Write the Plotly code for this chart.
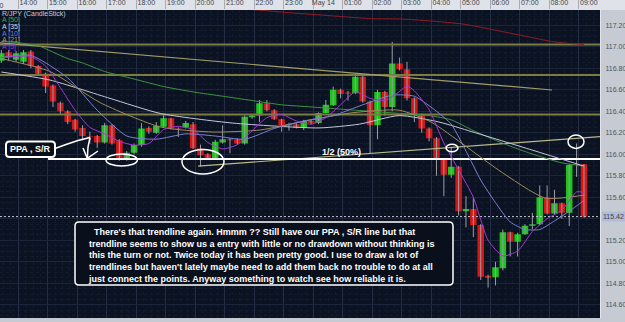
import pandas as pd
import plotly.graph_objects as go

# ---------------- data ----------------
times = pd.date_range("2014-05-13 13:30", periods=80, freq="15min")

opens = [116.87, 116.95, 116.88, 116.86, 116.955, 116.82, 116.75, 116.64, 116.48, 116.40,
         116.32, 116.245, 116.17, 116.17, 116.11, 116.27, 116.13, 115.96, 116.015, 116.086,
         116.245, 116.20, 116.257, 116.335, 116.24, 116.25, 116.28, 116.056, 116.00, 115.963,
         116.11, 116.14, 116.14, 116.10, 116.345, 116.36, 116.475, 116.41, 116.325, 116.27,
         116.28, 116.245, 116.31, 116.29, 116.385, 116.455, 116.60, 116.575, 116.567, 116.72,
         116.49, 116.27, 116.58, 116.44, 116.845, 116.79, 116.52, 116.37, 116.24, 116.15,
         115.955, 115.81, 115.885, 115.47, 115.49, 115.342, 114.87, 114.855, 114.94, 115.275,
         115.187, 115.256, 115.335, 115.35, 115.60, 115.45, 115.545, 115.457, 115.90, 115.907]
highs = [116.97, 116.97, 116.96, 116.97, 116.97, 116.83, 116.76, 116.65, 116.49, 116.41,
         116.33, 116.27, 116.21, 116.18, 116.29, 116.28, 116.14, 116.03, 116.10, 116.29,
         116.26, 116.30, 116.38, 116.34, 116.25, 116.31, 116.30, 116.09, 116.01, 116.135,
         116.27, 116.15, 116.15, 116.36, 116.37, 116.505, 116.505, 116.42, 116.33, 116.29,
         116.29, 116.32, 116.32, 116.39, 116.505, 116.63, 116.61, 116.59, 116.73, 116.74,
         116.50, 116.60, 116.59, 117.045, 116.90, 116.86, 116.53, 116.38, 116.25, 116.16,
         115.96, 116.07, 115.89, 115.61, 115.60, 115.35, 114.88, 115.00, 115.30, 115.28,
         115.27, 115.35, 115.455, 115.71, 115.71, 115.67, 115.55, 115.91, 116.10, 115.91]
lows = [116.85, 116.87, 116.86, 116.84, 116.80, 116.73, 116.57, 116.44, 116.365, 116.28,
        116.21, 116.13, 116.10, 116.06, 116.10, 116.09, 115.94, 115.94, 116.00, 116.07,
        116.19, 116.19, 116.25, 116.23, 116.16, 116.24, 116.05, 115.885, 115.95, 115.955,
        116.10, 116.01, 116.09, 116.09, 116.33, 116.30, 116.40, 116.32, 116.21, 116.22,
        116.24, 116.225, 116.28, 116.28, 116.38, 116.45, 116.52, 116.50, 116.56, 116.48,
        116.01, 116.14, 116.36, 116.40, 116.78, 116.50, 116.30, 116.20, 116.12, 115.80,
        115.61, 115.78, 115.43, 115.32, 115.23, 114.83, 114.76, 114.78, 114.92, 115.05,
        115.05, 115.25, 115.30, 115.34, 115.44, 115.44, 115.40, 115.333, 115.79, 115.41]
closes = [116.94, 116.90, 116.94, 116.95, 116.82, 116.75, 116.63, 116.49, 116.40, 116.30,
          116.23, 116.17, 116.165, 116.11, 116.27, 116.10, 115.955, 116.015, 116.086, 116.24,
          116.21, 116.265, 116.335, 116.24, 116.235, 116.29, 116.056, 115.99, 115.963, 116.117,
          116.14, 116.13, 116.10, 116.35, 116.36, 116.475, 116.41, 116.325, 116.27, 116.28,
          116.245, 116.31, 116.29, 116.385, 116.46, 116.60, 116.56, 116.565, 116.72, 116.49,
          116.27, 116.58, 116.44, 116.845, 116.79, 116.52, 116.375, 116.24, 116.15, 115.955,
          115.81, 115.885, 115.47, 115.49, 115.342, 114.86, 114.852, 114.948, 115.275, 115.187,
          115.256, 115.336, 115.35, 115.60, 115.45, 115.544, 115.457, 115.90, 115.905, 115.42]

# moving average lines
ma5_t = ["2014-05-13 13:30", "2014-05-13 14:00", "2014-05-13 14:30", "2014-05-13 15:00", "2014-05-13 15:30",
         "2014-05-13 16:00", "2014-05-13 16:30", "2014-05-13 17:00", "2014-05-13 17:30", "2014-05-13 18:00",
         "2014-05-13 18:30", "2014-05-13 19:00", "2014-05-13 19:30", "2014-05-13 20:00", "2014-05-13 20:30",
         "2014-05-13 21:00", "2014-05-13 21:30", "2014-05-13 22:00", "2014-05-13 22:30", "2014-05-13 23:00",
         "2014-05-13 23:30", "2014-05-14 00:00", "2014-05-14 00:30", "2014-05-14 01:00", "2014-05-14 01:30",
         "2014-05-14 02:00", "2014-05-14 02:30", "2014-05-14 03:00", "2014-05-14 03:15", "2014-05-14 03:30",
         "2014-05-14 04:00", "2014-05-14 04:30", "2014-05-14 05:00", "2014-05-14 05:30", "2014-05-14 06:00",
         "2014-05-14 06:30", "2014-05-14 07:00", "2014-05-14 07:30", "2014-05-14 08:00", "2014-05-14 08:30",
         "2014-05-14 09:00", "2014-05-14 09:15"]
ma5_v = [116.90, 116.91, 116.91, 116.82, 116.62, 116.41, 116.25, 116.19, 116.12, 116.085,
         116.10, 116.23, 116.26, 116.23, 116.11, 116.05, 116.09, 116.22, 116.34, 116.37,
         116.31, 116.28, 116.34, 116.46, 116.58, 116.52, 116.50, 116.585, 116.635, 116.59,
         116.415, 116.105, 115.855, 115.60, 115.20, 115.055, 115.10, 115.28, 115.40, 115.48,
         115.65, 115.645]

ma10_t = ["2014-05-13 13:30", "2014-05-13 14:30", "2014-05-13 15:45", "2014-05-13 16:45", "2014-05-13 17:45",
          "2014-05-13 18:45", "2014-05-13 19:45", "2014-05-13 20:45", "2014-05-13 21:45", "2014-05-13 22:45",
          "2014-05-13 23:45", "2014-05-14 00:45", "2014-05-14 01:45", "2014-05-14 02:45", "2014-05-14 03:30",
          "2014-05-14 04:15", "2014-05-14 04:45", "2014-05-14 05:15", "2014-05-14 05:45", "2014-05-14 06:15",
          "2014-05-14 06:45", "2014-05-14 07:15", "2014-05-14 07:45", "2014-05-14 08:15", "2014-05-14 08:45",
          "2014-05-14 09:15"]
ma10_v = [116.90, 116.92, 116.71, 116.41, 116.17, 116.14, 116.19, 116.17, 116.14, 116.24,
          116.31, 116.36, 116.46, 116.55, 116.54, 116.40, 116.28, 116.03, 115.76, 115.55,
          115.37, 115.30, 115.30, 115.38, 115.47, 115.57]

ma21_t = ["2014-05-13 13:30", "2014-05-13 15:09", "2014-05-13 16:51", "2014-05-13 18:53", "2014-05-13 20:41",
          "2014-05-13 22:17", "2014-05-13 23:38", "2014-05-14 01:20", "2014-05-14 02:59", "2014-05-14 04:04",
          "2014-05-14 05:11", "2014-05-14 06:21", "2014-05-14 07:56", "2014-05-14 09:15"]
ma21_v = [116.89, 116.77, 116.48, 116.254, 116.207, 116.226, 116.30, 116.384, 116.41, 116.30,
          116.087, 115.854, 115.593, 115.62]

ma35_t = ["2014-05-13 13:30", "2014-05-13 15:09", "2014-05-13 17:11", "2014-05-13 18:53", "2014-05-13 21:21",
          "2014-05-14 00:16", "2014-05-14 01:38", "2014-05-14 02:59", "2014-05-14 04:20", "2014-05-14 05:27",
          "2014-05-14 07:29", "2014-05-14 09:15"]
ma35_v = [116.765, 116.69, 116.52, 116.38, 116.29, 116.245, 116.28, 116.36, 116.30, 116.21,
          116.04, 115.89]

ma50_t = ["2014-05-13 13:30", "2014-05-13 14:00", "2014-05-13 14:45", "2014-05-13 15:15", "2014-05-13 15:45",
          "2014-05-13 16:15", "2014-05-13 17:00", "2014-05-13 18:00", "2014-05-13 19:00", "2014-05-13 20:00",
          "2014-05-13 21:00", "2014-05-13 22:00", "2014-05-13 23:00", "2014-05-14 00:00", "2014-05-14 01:00",
          "2014-05-14 02:00", "2014-05-14 03:00", "2014-05-14 04:00", "2014-05-14 04:45", "2014-05-14 05:30",
          "2014-05-14 06:15", "2014-05-14 07:00", "2014-05-14 07:45", "2014-05-14 08:30", "2014-05-14 09:15"]
ma50_v = [117.05, 117.04, 117.01, 116.95, 116.89, 116.85, 116.77, 116.70, 116.63, 116.58,
          116.54, 116.50, 116.46, 116.44, 116.42, 116.40, 116.38, 116.36, 116.32, 116.22,
          116.13, 116.05, 115.98, 115.92, 115.89]

malong_t = ["2014-05-13 21:00", "2014-05-13 22:57", "2014-05-14 00:18", "2014-05-14 02:06", "2014-05-14 02:59",
            "2014-05-14 04:04", "2014-05-14 05:11", "2014-05-14 06:13", "2014-05-14 07:14", "2014-05-14 08:15",
            "2014-05-14 09:15"]
malong_v = [117.37, 117.324, 117.296, 117.261, 117.259, 117.24, 117.21, 117.156, 117.10, 117.045, 117.02]

x_range = ["2014-05-13 13:27:15", "2014-05-14 09:47:35"]
sr_levels = [117.02, 116.738, 116.37]          # olive horizontal lines
ppa_level = 115.955                             # white PPA, S/R line
ppa_start = "2014-05-13 15:05"
trend_up_t = ["2014-05-13 20:10", "2014-05-14 09:48"]
trend_up_v = [115.89, 116.165]
trend_dn_t = ["2014-05-13 13:27", "2014-05-14 08:10"]
trend_dn_v = [117.036, 116.598]

hour_ticks = pd.date_range("2014-05-13 14:00", "2014-05-14 09:00", freq="1h")
hour_labels = ["14:00", "15:00", "16:00", "17:00", "18:00", "19:00", "20:00", "21:00", "22:00", "23:00",
               "May 14", "01:00", "02:00", "03:00", "04:00", "05:00", "06:00", "07:00", "08:00", "09:00"]
price_ticks = [114.6, 114.8, 115.0, 115.2, 115.4, 115.6, 115.8, 116.0, 116.2, 116.4, 116.6, 116.8, 117.0, 117.2]

legend_labels = ["R/JPY (CandleStick)", "A [50]", "A [35]", "A [10]", "A [21]", "A [5]"]
note_lines = ["\u00a0\u00a0There's that trendline again. Hmmm ?? Still have our PPA , S/R line but that",
              "trendline seems to show us a entry with little or no drawdown without thinking is",
              "this the turn or not. Twice today it has been pretty good. I use to draw a lot of",
              "trendlines but haven't lately maybe need to add them back no trouble to do at all",
              "just connect the points. Anyway something to watch see how reliable it is."]

# ---------------- geometry helpers (pixel -> paper) ----------------
W, H = 625, 322
PL, PR, PT, PB = 0, 600, 10, 318


def px(x):
    return (x - PL) / (PR - PL)


def py(y):
    return (PB - y) / (PB - PT)


def rrect(x0, y0, x1, y1, r):
    rx, ry = r / (PR - PL), r / (PB - PT)
    a0, a1, b0, b1 = px(x0), px(x1), py(y0), py(y1)
    return (f"M {a0+rx},{b0} L {a1-rx},{b0} Q {a1},{b0} {a1},{b0-ry} L {a1},{b1+ry} "
            f"Q {a1},{b1} {a1-rx},{b1} L {a0+rx},{b1} Q {a0},{b1} {a0},{b1+ry} "
            f"L {a0},{b0-ry} Q {a0},{b0} {a0+rx},{b0} Z")


def pth(points):
    s = f"M {px(points[0][0])},{py(points[0][1])}"
    for p in points[1:]:
        s += f" L {px(p[0])},{py(p[1])}"
    return s


# ---------------- figure ----------------
BG = "#0b1323"
fig = go.Figure()


def line_trace(xs, ys, color, width, dash=None):
    fig.add_trace(go.Scatter(x=xs, y=ys, mode="lines", line=dict(color=color, width=width, dash=dash),
                             hoverinfo="skip", showlegend=False))


# horizontal S/R levels, trendlines, price line (under the candles)
for lv in sr_levels:
    line_trace(x_range, [lv, lv], "#7c7c42", 2)
line_trace(trend_dn_t, trend_dn_v, "#a39c68", 1.2)
line_trace(trend_up_t, trend_up_v, "#b9b98a", 1.2)
line_trace([ppa_start, x_range[1]], [ppa_level, ppa_level], "#ffffff", 2)
line_trace(x_range, [closes[-1], closes[-1]], "#c8c8d0", 1, "2px,2px")

# wicks (gray)
fig.add_trace(go.Ohlc(x=times, open=opens, high=highs, low=lows, close=closes,
                      tickwidth=0,
                      increasing=dict(line=dict(color="#9c9ea6", width=1)),
                      decreasing=dict(line=dict(color="#9c9ea6", width=1)),
                      hoverinfo="skip", showlegend=False))
# bodies
fig.add_trace(go.Candlestick(x=times, open=opens, high=highs, low=lows, close=closes,
                             increasing=dict(fillcolor="#1fc21f", line=dict(color="#1fc21f", width=0)),
                             decreasing=dict(fillcolor="#d71717", line=dict(color="#d71717", width=0)),
                             hoverinfo="skip", showlegend=False))

ma_specs = [
    (malong_t, malong_v, "#8e1c26"),
    (ma50_t, ma50_v, "#3f943f"),
    (ma35_t, ma35_v, "#c6c6dc"),
    (ma21_t, ma21_v, "#9c8c58"),
    (ma10_t, ma10_v, "#7a80d2"),
    (ma5_t, ma5_v, "#a43ad4"),
]
for t, v, c in ma_specs:
    fig.add_trace(go.Scatter(x=t, y=v, mode="lines", line=dict(color=c, width=1, shape="spline", smoothing=0.6),
                             hoverinfo="skip", showlegend=False))

shapes = []
# top time bar
shapes.append(dict(type="rect", xref="paper", yref="paper", x0=0, x1=W / (PR - PL), y0=1, y1=1 + PT / (PB - PT),
                   fillcolor="#dfe2e8", line=dict(width=0), layer="below"))
# ellipses
for cx, cy, rx, ry in [(121.7, 160, 15.7, 6), (203, 161.7, 21, 12.3), (452, 148, 6, 3.7), (576, 141.7, 8, 6.7)]:
    shapes.append(dict(type="circle", xref="paper", yref="paper", x0=px(cx - rx), x1=px(cx + rx),
                       y0=py(cy + ry), y1=py(cy - ry), line=dict(color="#ffffff", width=1.5)))
# PPA callout box + pointer
shapes.append(dict(type="path", xref="paper", yref="paper", path=rrect(6, 141.5, 55, 157, 3.5),
                   fillcolor="#0a0f1c", line=dict(color="#ffffff", width=2), layer="above"))
shapes.append(dict(type="path", xref="paper", yref="paper",
                   path=pth([(55, 148.5), (66, 144.5), (78, 140.5), (90, 137.5)]),
                   line=dict(color="#ffffff", width=1.5), layer="above"))
shapes.append(dict(type="path", xref="paper", yref="paper",
                   path=pth([(90, 137.5), (88, 147), (87.3, 158.3)]),
                   line=dict(color="#ffffff", width=1.5), layer="above"))
shapes.append(dict(type="path", xref="paper", yref="paper",
                   path=pth([(83, 148), (87.3, 158.3), (98, 151)]),
                   line=dict(color="#ffffff", width=1.5), layer="above"))
# note box
shapes.append(dict(type="path", xref="paper", yref="paper", path=rrect(75, 222, 453, 285, 4),
                   fillcolor="#0a0f1c", line=dict(color="#ffffff", width=1.5), layer="above"))

annotations = []
# indicator legend (top-left)
leg_colors = ["#c8ccd2", "#4aa84a", "#d8d8e0", "#6f7fd8", "#a89860", "#9a3ad0"]
leg_y = [14, 20.5, 27, 33.5, 40, 47]
for lab, c, yy in zip(legend_labels, leg_colors, leg_y):
    annotations.append(dict(text=lab, xref="paper", yref="paper", x=px(0), y=py(yy), xanchor="left",
                            yanchor="middle", showarrow=False, font=dict(family="Liberation Sans", size=7, color=c)))
# clipped previous hour label
annotations.append(dict(text="13:00", xref="paper", yref="paper", x=px(-5), y=1 + 5 / (PB - PT),
                        xanchor="center", yanchor="middle", showarrow=False,
                        font=dict(family="Liberation Sans", size=7, color="#40444c")))
annotations.append(dict(text="<b>PPA , S/R</b>", xref="paper", yref="paper", x=px(30.5), y=py(149.3),
                        xanchor="center", yanchor="middle", showarrow=False,
                        font=dict(family="Liberation Sans", size=9, color="#ffffff")))
annotations.append(dict(text="<b>1/2 (50%)</b>", xref="paper", yref="paper", x=px(341.5), y=py(151.5),
                        xanchor="center", yanchor="middle", showarrow=False,
                        font=dict(family="Liberation Sans", size=9, color="#ffffff")))
annotations.append(dict(text="<b>" + "<br>".join(note_lines) + "</b>", xref="paper", yref="paper",
                        x=px(86), y=py(224.5), xanchor="left", yanchor="top", align="left", showarrow=False,
                        font=dict(family="Liberation Sans", size=9, color="#ffffff")))
# current price tag
annotations.append(dict(text=f"{closes[-1]:.2f}", xref="paper", yref="y", x=px(601), y=closes[-1],
                        xanchor="left", yanchor="middle", showarrow=False, bgcolor="#b0bcd8",
                        borderpad=1, font=dict(family="Liberation Sans", size=7, color="#3a4250")))

fig.update_layout(
    width=W, height=H, margin=dict(l=PL, r=W - PR, t=PT, b=H - PB),
    paper_bgcolor="#c6cad3", plot_bgcolor=BG,
    shapes=shapes, annotations=annotations, boxgap=0.12, boxgroupgap=0, showlegend=False,
    hovermode=False,
)
fig.update_xaxes(
    type="date", side="top", rangeslider=dict(visible=False), range=x_range,
    tickmode="array", tickvals=[t + pd.Timedelta(minutes=4.5) for t in hour_ticks], ticktext=hour_labels,
    ticks="outside", ticklen=10, tickcolor="#a8acb4", tickwidth=1, ticklabelshift=10, ticklabelstandoff=-9,
    tickfont=dict(family="Liberation Sans", size=7, color="#40444c"),
    showgrid=True, gridcolor="#232d44", gridwidth=1, zeroline=False, showline=False,
    minor=dict(tickmode="linear", tick0="2014-05-13 13:04:30", dtick=15 * 60 * 1000, showgrid=True,
               gridcolor="#131b2e", griddash="dot", ticks=""),
)
fig.update_yaxes(
    side="right", range=[114.477, 117.342], tickmode="array", tickvals=price_ticks,
    ticktext=["" if abs(v - closes[-1]) < 0.05 else f"{v:.2f}" for v in price_ticks], ticks="",
    ticklabelstandoff=3,
    tickfont=dict(family="Liberation Sans", size=7, color="#4c5460"),
    showgrid=True, gridcolor="#1c263a", gridwidth=1, zeroline=False,
    showline=True, linecolor="#e2e5ea", linewidth=1,
    minor=dict(tickmode="linear", tick0=0, dtick=0.05, showgrid=True, gridcolor="#131b2e", griddash="dot"),
)

fig.write_html("out.html", config={"displayModeBar": False})
